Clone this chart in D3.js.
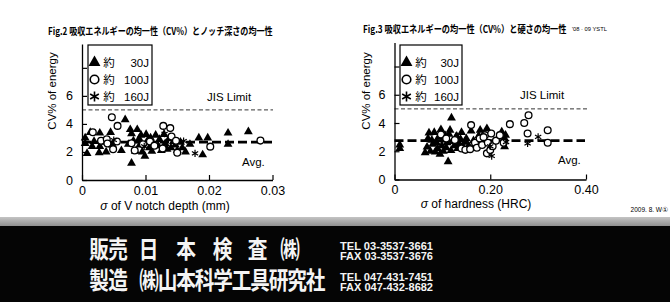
<!DOCTYPE html>
<html>
<head>
<meta charset="utf-8">
<script src="https://cdnjs.cloudflare.com/ajax/libs/d3/7.8.5/d3.min.js"></script>
<style>
  body { margin: 0; background: #fff; }
  svg { display: block; }
  text { font-family: 'Liberation Sans', Arial, sans-serif; }
  .jp { font-family: 'Noto Sans CJK JP', sans-serif; }
</style>
</head>
<body>
<script>
// Fig.2  sigma of V notch depth (mm) -> CV% of energy
const notch30J = [
  [0.0005, 3.0], [0.0005, 2.6], [0.0008, 1.9], [0.0013, 3.4], [0.0016, 2.4], [0.0019, 2.75],
  [0.0028, 3.35], [0.0028, 2.4], [0.0027, 1.95], [0.0032, 2.7], [0.0038, 2.0], [0.0045, 3.4],
  [0.0048, 2.5], [0.0062, 2.1], [0.0068, 4.3], [0.0073, 2.55], [0.0076, 3.6], [0.0078, 3.3],
  [0.0078, 1.2], [0.0081, 2.8], [0.0084, 2.05], [0.0087, 3.6], [0.0090, 2.95], [0.0091, 2.5],
  [0.0093, 3.2], [0.0095, 2.0], [0.0099, 1.7], [0.0101, 3.25], [0.0103, 2.8], [0.0106, 2.3],
  [0.0108, 3.0], [0.0110, 2.05], [0.0112, 2.6], [0.0116, 3.2], [0.0120, 2.45], [0.0122, 2.9],
  [0.0125, 2.1], [0.0129, 3.25], [0.0131, 2.6], [0.0134, 2.2], [0.0137, 2.95], [0.0140, 2.3],
  [0.0144, 2.75], [0.0147, 2.5], [0.0150, 2.1], [0.0155, 2.7], [0.0158, 2.3], [0.0163, 2.0],
  [0.0170, 2.55], [0.0190, 1.8], [0.0184, 3.0], [0.0198, 3.0], [0.0230, 3.35], [0.0230, 2.55],
  [0.0262, 3.45]
]
const notch100J = [
  [0.0017, 3.4], [0.0030, 2.8], [0.0039, 2.9], [0.0047, 4.48], [0.0056, 3.86], [0.0055, 2.74],
  [0.0049, 2.2], [0.0078, 2.62], [0.0083, 2.1], [0.0107, 2.75], [0.0128, 3.86], [0.0139, 3.7],
  [0.0127, 2.25], [0.0141, 3.1], [0.0148, 2.8], [0.0150, 1.95], [0.0114, 2.45], [0.0096, 2.55],
  [0.0202, 2.38], [0.0281, 2.81], [0.0040, 2.6]
]
const notch160J = [[0.0050, 2.85], [0.0130, 3.3], [0.0160, 2.78], [0.0178, 1.9], [0.0098, 2.4]]

// Fig.3  sigma of hardness (HRC) -> CV% of energy
const hard30J = [
  [0.011, 2.2], [0.011, 2.45], [0.064, 1.9], [0.068, 2.3], [0.070, 2.9], [0.072, 3.3],
  [0.075, 2.0], [0.078, 2.79], [0.080, 2.5], [0.083, 3.33], [0.085, 1.95], [0.088, 2.6],
  [0.090, 2.2], [0.092, 3.0], [0.095, 1.8], [0.097, 3.54], [0.099, 2.4], [0.102, 2.0],
  [0.104, 2.8], [0.106, 3.1], [0.108, 2.25], [0.110, 2.6], [0.112, 1.26], [0.114, 3.2],
  [0.116, 3.49], [0.118, 2.05], [0.119, 4.36], [0.122, 2.7], [0.125, 2.4], [0.128, 3.0],
  [0.130, 3.07], [0.132, 2.2], [0.135, 2.55], [0.138, 2.85], [0.140, 3.33], [0.143, 2.35],
  [0.147, 2.65], [0.150, 2.9], [0.155, 2.4], [0.160, 3.44], [0.165, 2.75], [0.170, 2.35],
  [0.176, 3.1], [0.179, 3.49], [0.185, 2.65], [0.193, 3.61], [0.224, 3.38], [0.232, 3.14],
  [0.230, 2.32], [0.230, 2.9]
]
const hard100J = [
  [0.097, 3.19], [0.108, 2.9], [0.126, 2.8], [0.140, 2.2], [0.148, 2.1], [0.160, 3.85],
  [0.158, 2.15], [0.168, 2.6], [0.172, 2.25], [0.178, 2.9], [0.183, 2.45], [0.189, 3.14],
  [0.193, 1.85], [0.195, 2.6], [0.200, 2.08], [0.202, 3.26], [0.205, 2.35], [0.212, 2.75],
  [0.220, 3.14], [0.228, 2.6], [0.241, 3.92], [0.271, 4.0], [0.280, 4.55], [0.278, 3.26],
  [0.320, 3.49], [0.320, 2.6], [0.186, 3.0]
]
const hard160J = [[0.203, 1.66], [0.200, 2.35], [0.278, 2.55], [0.300, 3.02], [0.233, 2.65]]

const yTicks = [0, 2, 4, 6, 8]
const notchTicks = [0, 0.01, 0.02, 0.03]
const hardTicks = [0, 0.2, 0.4]
const jisLimit = 5.0
const notchAvg = 2.7
const hardAvg = 2.75
const legendLabels = ['30J', '100J', '160J']

const svg = d3.select('body').append('svg')
  .attr('width', 670)
  .attr('height', 302)

svg.append('rect').attr('width', 670).attr('height', 302).attr('fill', '#fff')

function starPath(r) {
  const a = r * 0.87, b = r * 0.5
  return `M0,${-r}V${r}M${-a},${-b}L${a},${b}M${-a},${b}L${a},${-b}`
}

// squeeze a text horizontally so it spans exactly w px
function fitText(sel, x, y, w) {
  const natural = sel.node().getComputedTextLength()
  sel.attr('transform', `translate(${x},${y}) scale(${w / natural},1)`)
}

function drawMarks(g, data, kind, x, y) {
  const sel = g.append('g').selectAll('path').data(data).enter().append('path')
    .attr('transform', d => `translate(${x(d[0])},${y(d[1])})`)
  if (kind === 0) {
    sel.attr('d', d3.symbol(d3.symbolTriangle, 34)()).attr('fill', '#000')
  } else if (kind === 1) {
    sel.attr('d', d3.symbol(d3.symbolCircle, 36)()).attr('fill', '#fff')
      .attr('stroke', '#000').attr('stroke-width', 1.3)
  } else {
    sel.attr('d', starPath(3.6)).attr('fill', 'none')
      .attr('stroke', '#000').attr('stroke-width', 1.2)
  }
}

function drawFig(cfg) {
  const x = d3.scaleLinear().domain(cfg.xDomain).range(cfg.xRange)
  const y = d3.scaleLinear().domain([0, 9.7]).range(cfg.yRange)
  const g = svg.append('g')

  // title
  const title = g.append('text').attr('class', 'jp')
    .attr('font-size', 10).attr('font-weight', 700)
    .text(cfg.title.text)
  fitText(title, cfg.title.x, cfg.title.y, cfg.title.w)

  // JIS limit and average
  g.append('line')
    .attr('x1', x(0)).attr('x2', cfg.jisEnd)
    .attr('y1', y(jisLimit)).attr('y2', y(jisLimit))
    .attr('stroke', '#333').attr('stroke-width', 1).attr('stroke-dasharray', '4,2.5')
  g.append('line')
    .attr('x1', x(0)).attr('x2', cfg.avgEnd)
    .attr('y1', y(cfg.avg)).attr('y2', y(cfg.avg))
    .attr('stroke', '#000').attr('stroke-width', 2.6).attr('stroke-dasharray', '9,4')

  drawMarks(g, cfg.series[0], 0, x, y)
  drawMarks(g, cfg.series[1], 1, x, y)
  drawMarks(g, cfg.series[2], 2, x, y)

  // axes
  const yAxis = g.append('g')
    .attr('transform', `translate(${x(0)},0)`)
    .call(d3.axisLeft(y).tickValues(yTicks).tickSizeInner(-5).tickSizeOuter(0)
      .tickPadding(9).tickFormat(d => d === 8 ? '' : d))
  const xAxis = g.append('g')
    .attr('transform', `translate(0,${y(0)})`)
    .call(d3.axisBottom(x).tickValues(cfg.xTicks).tickSizeInner(-5).tickSizeOuter(0)
      .tickPadding(6).tickFormat(cfg.fmt))
  for (const ax of [xAxis, yAxis]) {
    ax.select('.domain').attr('stroke-width', 1.3)
    ax.selectAll('.tick line').attr('stroke-width', 1.2)
    ax.selectAll('text').attr('font-size', 12.5).attr('font-family', 'Liberation Sans, Arial, sans-serif')
  }

  // axis titles
  g.append('text')
    .attr('transform', `translate(${cfg.yTitleX},91) rotate(-90)`)
    .attr('text-anchor', 'middle').attr('font-size', 11.5)
    .text('CV% of energy')
  const xt = g.append('text')
    .attr('x', cfg.xTitle.x).attr('y', cfg.xTitle.y)
    .attr('text-anchor', 'middle').attr('font-size', 12)
  xt.append('tspan').attr('font-style', 'italic').text('σ')
  xt.append('tspan').text(cfg.xTitle.text)

  // in-plot labels
  g.append('text').attr('x', cfg.jisText[0]).attr('y', cfg.jisText[1])
    .attr('font-size', 11.5).text('JIS Limit')
  g.append('text').attr('x', cfg.avgText[0]).attr('y', cfg.avgText[1])
    .attr('font-size', 11.5).text('Avg.')

  // legend
  const lg = g.append('g')
  lg.append('rect')
    .attr('x', cfg.legend.x).attr('y', 45)
    .attr('width', cfg.legend.w).attr('height', 60)
    .attr('fill', '#fff').attr('stroke', '#000').attr('stroke-width', 1.2)
  const rowY = [63, 80, 97]
  legendLabels.forEach((lab, i) => {
    const sx = cfg.legend.x + 6.5
    const sy = rowY[i] - 0.5
    if (i === 0) {
      lg.append('path').attr('transform', `translate(${sx},${sy})`)
        .attr('d', d3.symbol(d3.symbolTriangle, 62)()).attr('fill', '#000')
    } else if (i === 1) {
      lg.append('circle').attr('cx', sx).attr('cy', sy).attr('r', 4.3)
        .attr('fill', '#fff').attr('stroke', '#000').attr('stroke-width', 1.6)
    } else {
      lg.append('path').attr('transform', `translate(${sx},${sy})`)
        .attr('d', starPath(5)).attr('stroke', '#000').attr('stroke-width', 1.6)
    }
    lg.append('text').attr('class', 'jp')
      .attr('x', cfg.legend.x + 21).attr('y', rowY[i] + 4)
      .attr('text-anchor', 'middle').attr('font-size', 11.5).text('約')
    lg.append('text')
      .attr('x', cfg.legend.x + cfg.legend.w - 3).attr('y', rowY[i] + 4)
      .attr('text-anchor', 'end').attr('font-size', 11.5).text(lab)
  })
}

drawFig({
  xDomain: [0, 0.03], xRange: [82, 272.5], yRange: [180, 44],
  xTicks: notchTicks, fmt: d => d === 0 ? '0' : d3.format('.2f')(d),
  series: [notch30J, notch100J, notch160J], avg: notchAvg,
  jisEnd: 273, avgEnd: 272,
  title: { x: 48, y: 34.5, w: 225, text: 'Fig.2 吸収エネルギーの均一性（CV%）とノッチ深さの均一性' },
  yTitleX: 56, xTitle: { x: 165, y: 210, text: ' of V notch depth (mm)' },
  jisText: [207, 101], avgText: [242, 166],
  legend: { x: 88, w: 64 }
})

drawFig({
  xDomain: [0, 0.4], xRange: [394.5, 586], yRange: [179.5, 42.5],
  xTicks: hardTicks, fmt: d => d === 0 ? '0' : d3.format('.2f')(d),
  series: [hard30J, hard100J, hard160J], avg: hardAvg,
  jisEnd: 588, avgEnd: 585,
  title: { x: 363, y: 33, w: 204, text: 'Fig.3 吸収エネルギーの均一性（CV%）と硬さの均一性' },
  yTitleX: 370, xTitle: { x: 476, y: 207.5, text: ' of hardness (HRC)' },
  jisText: [520, 99], avgText: [558, 164],
  legend: { x: 400, w: 62 }
})

const ystl = svg.append('text').attr('font-size', 5).text("'08 · 09 YSTL")
fitText(ystl, 572, 31, 35)

svg.append('text').attr('x', 668).attr('y', 212).attr('text-anchor', 'end')
  .attr('font-size', 6.5).attr('font-family', 'Liberation Serif, serif')
  .text('2009. 8. W①')

// footer banner
const grad = svg.append('defs').append('linearGradient').attr('id', 'band')
  .attr('x1', 0).attr('x2', 0).attr('y1', 0).attr('y2', 1)
grad.append('stop').attr('offset', 0).attr('stop-color', '#c4c4c4')
grad.append('stop').attr('offset', 1).attr('stop-color', '#8a8a8a')
svg.append('rect').attr('x', 0).attr('y', 217).attr('width', 670).attr('height', 10).attr('fill', 'url(#band)')
svg.append('rect').attr('x', 0).attr('y', 226).attr('width', 670).attr('height', 76).attr('fill', '#050505')

const row1 = [['販', 99], ['売', 118], ['日', 148.5], ['本', 186], ['検', 222.5], ['査', 257.5], ['㈱', 290]]
const row2 = [['製', 99], ['造', 118], ['㈱', 149]].concat(
  Array.from('山本科学工具研究社').map((c, i) => [c, 167.5 + i * 18.5]))

function footerRow(chars, baseY) {
  chars.forEach(([c, cx]) => {
    svg.append('text').attr('class', 'jp')
      .attr('transform', `translate(${cx},${baseY}) scale(0.82,1)`)
      .attr('text-anchor', 'middle').attr('font-size', 24).attr('font-weight', 700)
      .attr('fill', '#f4f4f4').text(c)
  })
}
footerRow(row1, 258)
footerRow(row2, 289)

const phones = [['TEL 03-3537-3661', 249.5], ['FAX 03-3537-3676', 260], ['TEL 047-431-7451', 280.5], ['FAX 047-432-8682', 291]]
phones.forEach(([t, py]) => {
  svg.append('text').attr('x', 340).attr('y', py)
    .attr('font-size', 11.5).attr('font-weight', 700).attr('fill', '#f4f4f4')
    .attr('textLength', 93).attr('lengthAdjust', 'spacingAndGlyphs').text(t)
})
</script>
</body>
</html>
